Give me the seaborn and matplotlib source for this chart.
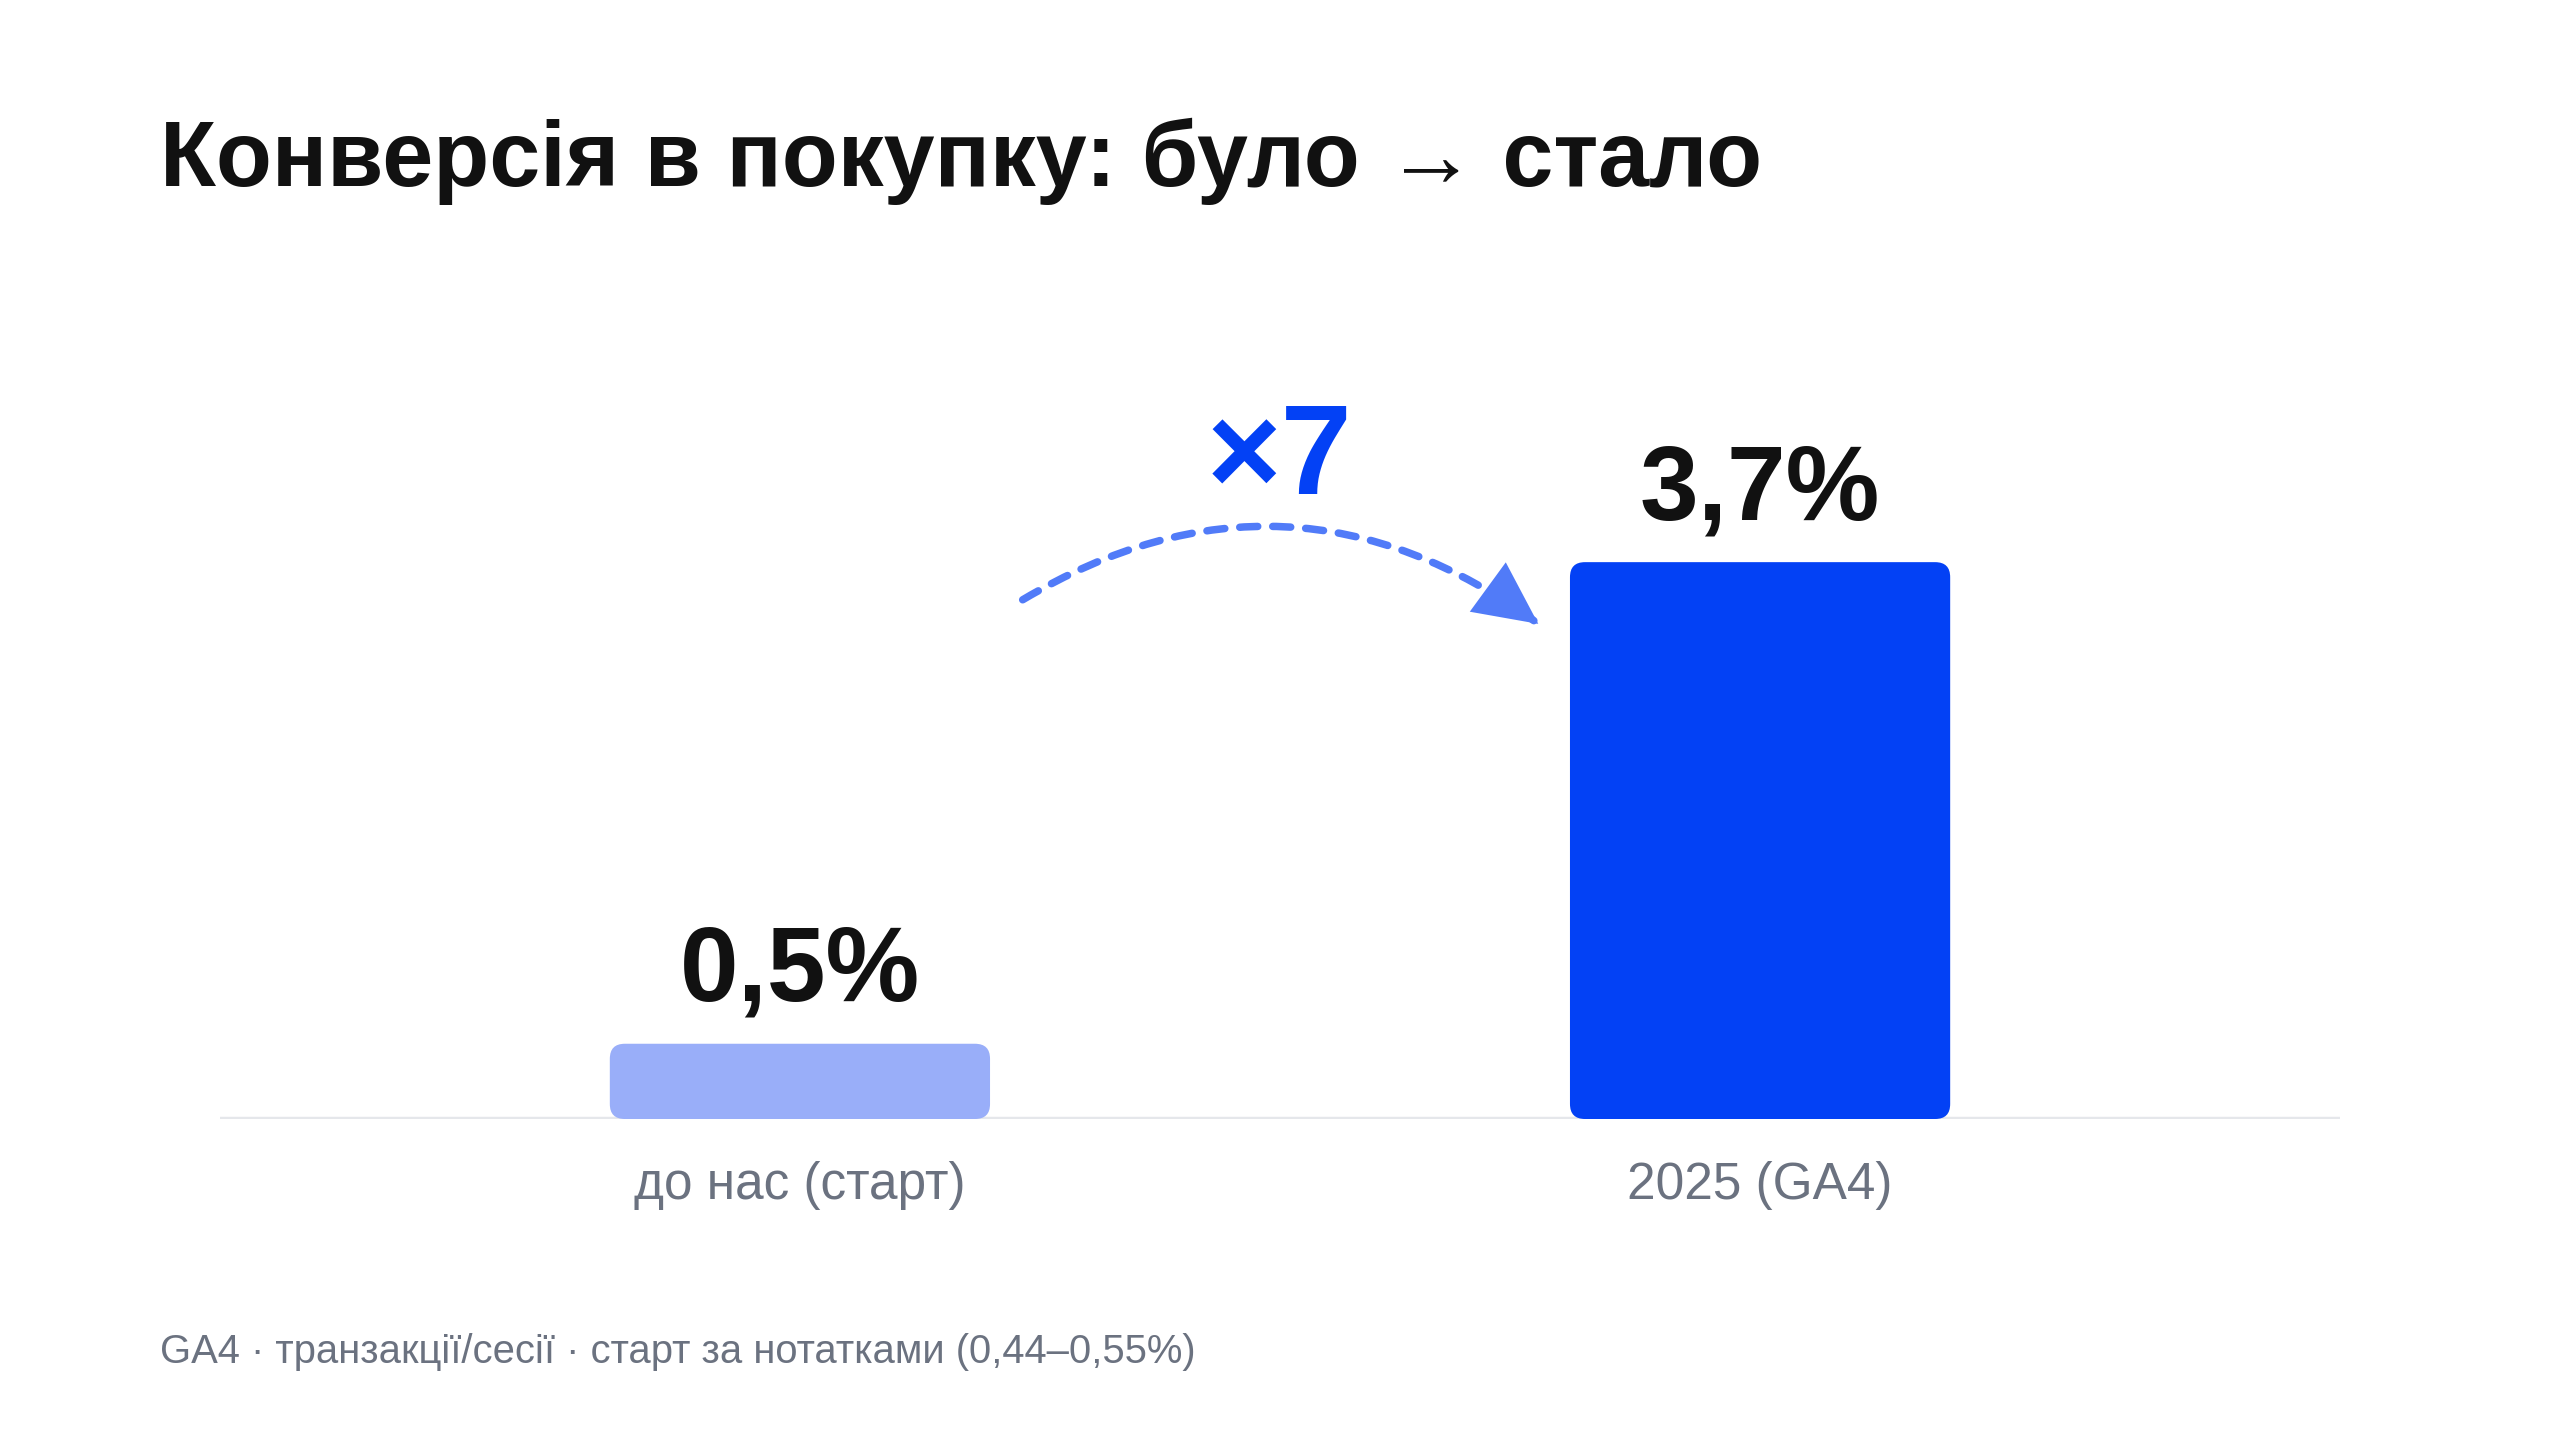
import matplotlib
matplotlib.use('Agg')
import matplotlib.pyplot as plt
import seaborn as sns
from matplotlib.patches import FancyBboxPatch

# дані
categories = ['до нас (старт)', '2025 (GA4)']
conversion = [0.5, 3.7]
bar_colors = ['#99AEF9', '#0341F5']
title = 'Конверсія в покупку: було → стало'
footnote = 'GA4 · транзакції/сесії · старт за нотатками (0,44–0,55%)'
multiplier_label = '×7'

sns.set_theme(style='white')
plt.rcParams['font.family'] = ['Liberation Sans', 'DejaVu Sans']

W, H = 2560, 1440  # пікселі макета
fig = plt.figure(figsize=(25.6, 14.4), dpi=100)
fig.patch.set_facecolor('white')

y_top = 5.0
px_per_unit = 150.5
ax = fig.add_axes([220 / W, 1 - 1119 / H, (2340 - 220) / W, y_top * px_per_unit / H])

sns.barplot(x=categories, y=conversion, hue=categories, palette=bar_colors,
            width=0.396, legend=False, ax=ax, saturation=1)
ax.set_xlim(-0.604, 1.604)
ax.set_ylim(0, y_top)

# закруглені стовпці
fig.canvas.draw()
pts = ax.transData.transform([(0, 0), (1, 1)])
sx = pts[1, 0] - pts[0, 0]
sy = pts[1, 1] - pts[0, 1]
radius_px = 15
for patch in list(ax.patches):
    x0, y0 = patch.get_x(), patch.get_y()
    w, h = patch.get_width(), patch.get_height()
    fc = patch.get_facecolor()
    patch.remove()
    ax.add_patch(FancyBboxPatch((x0, y0), w, h,
                                boxstyle=f'round,pad=0,rounding_size={radius_px / sx}',
                                mutation_aspect=sx / sy, facecolor=fc,
                                edgecolor='none', zorder=3))

ax.axhline(0, color='#E5E7EB', lw=3.2, zorder=2)
for s in ax.spines.values():
    s.set_visible(False)
ax.set_yticks([])
ax.set_ylabel('')
ax.set_xlabel('')
ax.tick_params(axis='x', length=0, pad=30, labelsize=37, labelcolor='#6B7280')

for i, v in enumerate(conversion):
    ax.annotate(f'{v:.1f}'.replace('.', ',') + '%', (i, v), xytext=(0, 31),
                textcoords='offset points', ha='center', va='baseline',
                fontsize=76, fontweight='bold', color='#111111', annotation_clip=False)

# дугова стрілка: пунктир + суцільний наконечник
arc_start = (0.232, 3.45)
arc_end = (0.769, 3.29)
arc_color = '#517BF8'
ax.annotate('', xy=arc_end, xytext=arc_start,
            arrowprops=dict(arrowstyle='-', connectionstyle='arc3,rad=-0.33',
                            color=arc_color, lw=5.4, linestyle=(0, (2.4, 2.0)),
                            shrinkA=0, shrinkB=0),
            annotation_clip=False)
ax.annotate('', xy=arc_end, xytext=arc_start,
            arrowprops=dict(arrowstyle='-|>,head_length=2.25,head_width=1.1',
                            mutation_scale=20, connectionstyle='arc3,rad=-0.33',
                            color=arc_color, lw=0, shrinkA=0, shrinkB=0),
            annotation_clip=False)
ax.text(0.5, 4.15, multiplier_label, ha='center', va='baseline', fontsize=92,
        fontweight='bold', color='#0341F5')

fig.text(160 / W, 1 - 186 / H, title, ha='left', va='baseline', fontsize=66,
         fontweight='bold', color='#111111')
fig.text(160 / W, 1 - 1352 / H, footnote, ha='left', va='center', fontsize=28.8,
         color='#6B7280')

fig.savefig('out.png', dpi=100, facecolor='white')
